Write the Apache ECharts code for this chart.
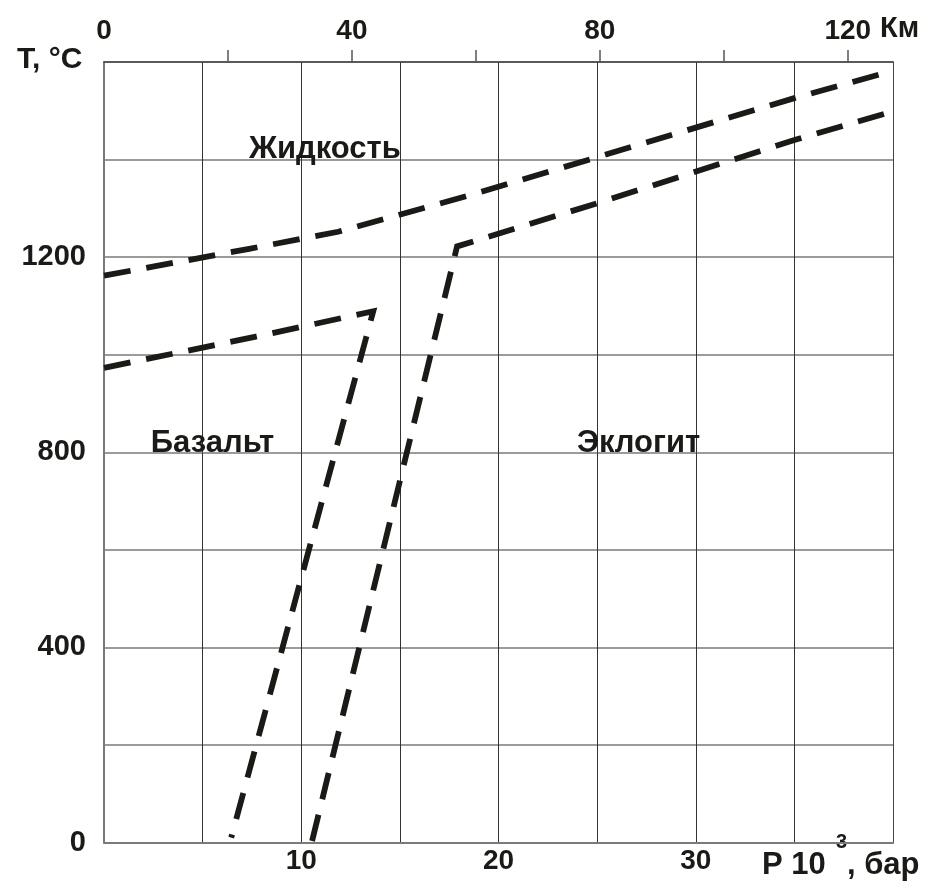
<!DOCTYPE html>
<html><head><meta charset="utf-8">
<script src="https://cdn.jsdelivr.net/npm/echarts@6/dist/echarts.min.js"></script>
<style>html,body{margin:0;padding:0;background:#fff}#c{width:942px;height:892px}</style>
</head><body><div id="c"></div>
<script>
// Axis tick labels
const pressureLabels = [10, 20, 30];          // P, 10^3 bar
const depthLabels = [0, 40, 80, 120];          // km
const depthTicks = [20, 40, 60, 80, 100, 120]; // km
const tempLabels = [0, 400, 800, 1200];        // T, °C
// Curves [P (10^3 bar), T (°C)]
const liquidus = [[0,1162],[7.36,1217],[11.87,1252],[18.46,1326],[24.68,1401],[35,1526],[40,1582]];
const basaltBoundary = [[0,973],[7.7,1037],[13.65,1089],[6.45,10]];
const eclogiteBoundary = [[10.55,3],[17.9,1222],[25.04,1311],[35,1440],[40,1499]];
// Region labels [P, T, text]
const regionLabels = [[11.2,1421,'Жидкость'],[5.5,818,'Базальт'],[27.1,818,'Эклогит']];

const FONT = '"Liberation Sans", Arial, sans-serif';
const INK = '#1c1a17';
const chart = echarts.init(document.getElementById('c'), null, {renderer:'canvas'});
const dash = {color: INK, width: 5.8, type: [27, 16], cap: 'butt', join: 'miter', opacity: 1};
const line = (name, data) => ({
  name, type: 'line', data, symbol: 'none', silent: true, animation: false,
  lineStyle: dash, xAxisIndex: 0, yAxisIndex: 0, clip: true, z: 5
});
const plain = v => String(Math.round(v));
chart.setOption({
  animation: false,
  backgroundColor: '#fff',
  grid: {left: 104, right: 49, top: 62, bottom: 49.5, containLabel: false},
  xAxis: [
    {type: 'value', position: 'bottom', min: 0, max: 40, interval: 5,
     axisLine: {show: true, onZero: false, lineStyle: {color: '#7a7a7a', width: 2}},
     axisTick: {show: false},
     splitLine: {show: true, lineStyle: {color: '#333', width: 1}},
     axisLabel: {margin: 5, fontFamily: FONT, fontWeight: 'bold', fontSize: 28, color: INK,
       customValues: pressureLabels, formatter: plain}},
    {type: 'value', position: 'top', min: 0, max: 127.3, interval: 20,
     axisLine: {show: true, onZero: false, lineStyle: {color: '#444', width: 1.5}},
     axisTick: {show: true, inside: false, length: 12, customValues: depthTicks,
       lineStyle: {color: '#555', width: 1.5}},
     splitLine: {show: false},
     axisLabel: {margin: 17, fontFamily: FONT, fontWeight: 'bold', fontSize: 28, color: INK,
       customValues: depthLabels, formatter: plain}}
  ],
  yAxis: [
    {type: 'value', position: 'left', min: 0, max: 1600, interval: 200,
     axisLine: {show: true, onZero: false, lineStyle: {color: '#7a7a7a', width: 2}},
     axisTick: {show: false},
     splitLine: {show: true, lineStyle: {color: '#7a7a7a', width: 1.5}},
     axisLabel: {margin: 18, fontFamily: FONT, fontWeight: 'bold', fontSize: 29, color: INK,
       customValues: tempLabels, formatter: plain}},
    {type: 'value', position: 'right', min: 0, max: 1600, interval: 200,
     axisLine: {show: true, onZero: false, lineStyle: {color: '#444', width: 1}},
     axisTick: {show: false}, axisLabel: {show: false}, splitLine: {show: false}}
  ],
  series: [
    line('Ликвидус', liquidus),
    line('Базальт', basaltBoundary),
    line('Эклогит', eclogiteBoundary),
    {type: 'scatter', data: regionLabels.map(r => [r[0], r[1], r[2]]), symbolSize: 1,
     itemStyle: {opacity: 0}, silent: true, z: 6,
     label: {show: true, position: 'inside', formatter: p => p.data[2], opacity: 1,
       fontFamily: FONT, fontWeight: 'bold', fontSize: 31, color: INK}}
  ],
  graphic: [
    {type: 'text', left: 17, top: 45, style: {text: 'T, °C', font: 'bold 30px ' + FONT, fill: INK}},
    {type: 'text', left: 880, top: 14, style: {text: 'Км', font: 'bold 29px ' + FONT, fill: INK}},
    {type: 'text', left: 762, top: 850, style: {text: 'P 10', font: 'bold 31px ' + FONT, fill: INK}},
    {type: 'text', left: 836, top: 832, style: {text: '3', font: 'bold 20px ' + FONT, fill: INK}},
    {type: 'text', left: 847, top: 850, style: {text: ', бар', font: 'bold 31px ' + FONT, fill: INK}}
  ]
});
</script></body></html>
